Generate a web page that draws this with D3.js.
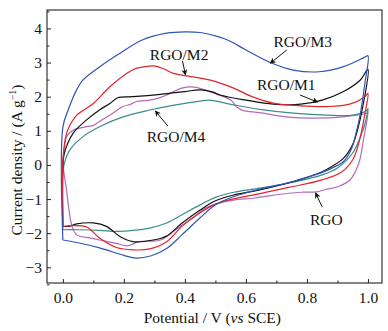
<!DOCTYPE html>
<html>
<head>
<meta charset="utf-8">
<script src="https://cdn.jsdelivr.net/npm/d3@7"></script>
<style>
  body { margin: 0; background: #fff; }
  svg text { font-family: "Liberation Serif", "Times New Roman", serif; fill: #111; }
</style>
</head>
<body>
<svg id="chart" width="388" height="331"></svg>
<script>
// CV loops, [potential V, current density A/g], anodic sweep then cathodic sweep
const rgoM3 = [
    [0, -2.2], [0, 1.1], [0.017, 1.6], [0.045, 2.2], [0.066, 2.49], [0.12, 2.87], [0.187, 3.27],
    [0.26, 3.66], [0.34, 3.86], [0.4, 3.9], [0.45, 3.88], [0.5, 3.78], [0.54, 3.66], [0.6, 3.37],
    [0.68, 3.0], [0.755, 2.78], [0.84, 2.73], [0.92, 2.88], [0.99, 3.16], [1.0, 3.2],
    [0.99, 2.4], [0.975, 1.5], [0.96, 0.9], [0.945, 0.45], [0.92, 0.1], [0.88, -0.1], [0.85, -0.22],
    [0.8, -0.36], [0.74, -0.52], [0.67, -0.66], [0.6, -0.82], [0.55, -0.96], [0.5, -1.17],
    [0.45, -1.55], [0.39, -2.05], [0.34, -2.45], [0.29, -2.66], [0.24, -2.73], [0.2, -2.65],
    [0.12, -2.43], [0.05, -2.28], [0, -2.2]
]
const rgoM2 = [
    [0, -1.8], [0, 0.1], [0.005, 0.6], [0.015, 1.0], [0.045, 1.45], [0.1, 1.8], [0.154, 2.29],
    [0.21, 2.69], [0.24, 2.83], [0.27, 2.88], [0.296, 2.9], [0.33, 2.82], [0.36, 2.69], [0.405, 2.61],
    [0.48, 2.49], [0.56, 2.25], [0.62, 2.0], [0.69, 1.81], [0.78, 1.73], [0.865, 1.71], [0.94, 1.78],
    [0.99, 2.0], [1.0, 2.1],
    [0.99, 1.5], [0.97, 0.64], [0.95, 0.15], [0.915, -0.2], [0.85, -0.44], [0.74, -0.66],
    [0.63, -0.87], [0.56, -0.99], [0.5, -1.15], [0.45, -1.4], [0.39, -1.8], [0.34, -2.25],
    [0.285, -2.46], [0.23, -2.49], [0.176, -2.42], [0.12, -2.14], [0.078, -1.82], [0.03, -1.78], [0, -1.8]
]
const rgoM1 = [
    [0, -1.8], [0, 0], [0.005, 0.35], [0.034, 0.93], [0.078, 1.32], [0.12, 1.61], [0.154, 1.8],
    [0.18, 1.97], [0.23, 2.0], [0.32, 2.07], [0.4, 2.15], [0.45, 2.2], [0.49, 2.14], [0.515, 2.05],
    [0.6, 1.9], [0.69, 1.78], [0.78, 1.78], [0.85, 1.9], [0.92, 2.15], [0.975, 2.49], [1.0, 2.8],
    [0.985, 1.8], [0.965, 1.0], [0.95, 0.6], [0.92, 0.2], [0.88, -0.05], [0.85, -0.2], [0.74, -0.53],
    [0.63, -0.76], [0.56, -0.88], [0.5, -1.05], [0.45, -1.32], [0.39, -1.71], [0.34, -2.08],
    [0.296, -2.2], [0.23, -2.25], [0.187, -2.1], [0.143, -1.8], [0.1, -1.7], [0.045, -1.73],
    [0.02, -1.8], [0, -1.8]
]
const rgoM4 = [
    [0, -1.9], [0, -0.3], [0.005, 0.05], [0.023, 0.44], [0.066, 0.83], [0.12, 1.12], [0.197, 1.41],
    [0.285, 1.61], [0.37, 1.76], [0.45, 1.87], [0.48, 1.9], [0.56, 1.76], [0.645, 1.63],
    [0.755, 1.52], [0.865, 1.46], [0.95, 1.46], [0.997, 1.6], [1.0, 1.65],
    [0.99, 1.2], [0.975, 0.82], [0.95, 0.35], [0.9, -0.09], [0.85, -0.29], [0.74, -0.53],
    [0.63, -0.7], [0.56, -0.8], [0.5, -0.95], [0.45, -1.17], [0.39, -1.46], [0.34, -1.7],
    [0.285, -1.85], [0.23, -1.92], [0.176, -1.95], [0.12, -1.92], [0.05, -1.9], [0, -1.9]
]
const rgo = [
    [0, 0.1], [0.005, 0.5], [0.012, 0.82], [0.034, 1.02], [0.078, 1.12], [0.1, 1.16], [0.12, 1.27],
    [0.154, 1.46], [0.197, 1.71], [0.22, 1.77], [0.24, 1.85], [0.285, 1.9], [0.31, 1.95],
    [0.34, 2.05], [0.39, 2.25], [0.43, 2.28], [0.48, 2.15], [0.55, 1.9], [0.57, 1.7], [0.59, 1.6],
    [0.645, 1.53], [0.73, 1.41], [0.82, 1.37], [0.92, 1.41], [0.997, 1.52], [1.0, 1.55],
    [0.985, 0.73], [0.97, 0.05], [0.94, -0.45], [0.9, -0.64], [0.86, -0.72], [0.83, -0.79],
    [0.78, -0.8], [0.74, -0.83], [0.68, -0.9], [0.63, -0.97], [0.56, -1.03], [0.52, -1.1],
    [0.47, -1.25], [0.43, -1.52], [0.37, -1.9], [0.32, -2.2], [0.25, -2.25], [0.21, -2.37],
    [0.176, -2.3], [0.12, -2.2], [0.088, -2.14], [0.045, -2.05], [0.03, -1.8], [0.01, -0.6],
    [0.003, -0.2], [0, 0.1]
]

const seriesNames = ["RGO", "RGO/M4", "RGO/M1", "RGO/M2", "RGO/M3"]
const seriesData = [rgo, rgoM4, rgoM1, rgoM2, rgoM3]
const seriesColors = ["#b56ab8", "#3d8c88", "#111111", "#e3242b", "#2f55b5"]

const xTicks = [0, 0.2, 0.4, 0.6, 0.8, 1.0]
const yTicks = [-3, -2, -1, 0, 1, 2, 3, 4]

// label anchor [V, I] and arrow [from V, from I, to V, to I]
const labels = [
    { text: "RGO/M3", at: [0.69, 3.46], arrow: [0.734, 3.37, 0.68, 2.98] },
    { text: "RGO/M2", at: [0.285, 3.08], arrow: [0.392, 3.05, 0.402, 2.64] },
    { text: "RGO/M1", at: [0.636, 2.2], arrow: [0.777, 2.05, 0.835, 1.84] },
    { text: "RGO/M4", at: [0.275, 0.67], arrow: [0.344, 1.14, 0.303, 1.58] },
    { text: "RGO", at: [0.81, -1.76], arrow: [0.85, -1.23, 0.828, -0.82] }
]

const svg = d3.select("#chart")
const margin = { left: 47, top: 10, right: 6, bottom: 48 }
const width = 388 - margin.left - margin.right
const height = 331 - margin.top - margin.bottom

const x = d3.scaleLinear().domain([-0.052, 1.046]).range([0, width])
const y = d3.scaleLinear().domain([-3.46, 4.54]).range([height, 0])

const g = svg.append("g").attr("transform", "translate(" + margin.left + "," + margin.top + ")")

// arrowhead marker
svg.append("defs").append("marker")
    .attr("id", "head")
    .attr("viewBox", "0 0 10 10")
    .attr("refX", 9).attr("refY", 5)
    .attr("markerWidth", 8).attr("markerHeight", 6)
    .attr("markerUnits", "userSpaceOnUse")
    .attr("orient", "auto")
    .append("path").attr("d", "M0,0 L10,5 L0,10 L3,5 Z").attr("fill", "#111")

// minor ticks (0.1 / 0.5 steps), pointing inward
const xMinor = d3.axisBottom(x).tickValues([0.1, 0.3, 0.5, 0.7, 0.9])
    .tickSizeInner(-2.5).tickSizeOuter(0).tickFormat("")
const yMinor = d3.axisLeft(y).tickValues(d3.range(-3.5, 4.6, 1)).tickSizeInner(-2.5).tickSizeOuter(0).tickFormat("")

g.append("g").attr("transform", "translate(0," + height + ")").call(xMinor)
g.append("g").call(yMinor)

const xAxis = d3.axisBottom(x).tickValues(xTicks).tickSizeInner(-4).tickSizeOuter(0)
    .tickPadding(9).tickFormat(d3.format(".1f"))
const yAxis = d3.axisLeft(y).tickValues(yTicks).tickSizeInner(-4).tickSizeOuter(0)
    .tickPadding(5).tickFormat(d => d < 0 ? "\u2212" + Math.abs(d) : d)

const gx = g.append("g").attr("transform", "translate(0," + height + ")").call(xAxis)
const gy = g.append("g").call(yAxis)

g.selectAll(".domain").remove()
g.selectAll(".tick line").attr("stroke", "#222").attr("stroke-width", 1)
gx.selectAll("text").attr("font-size", 15.5).attr("fill", "#222")
gy.selectAll("text").attr("font-size", 15.5).attr("fill", "#222")

// curves
const line = d3.line().x(d => x(d[0])).y(d => y(d[1])).curve(d3.curveCatmullRom.alpha(0.5))

g.selectAll(".cv")
    .data(seriesData)
    .enter()
    .append("path")
    .attr("class", "cv")
    .attr("d", d => line(d))
    .attr("fill", "none")
    .attr("stroke", (d, i) => seriesColors[i])
    .attr("stroke-width", 1.2)
    .attr("stroke-linejoin", "round")

// frame
g.append("rect")
    .attr("width", width).attr("height", height)
    .attr("fill", "none").attr("stroke", "#222").attr("stroke-width", 1.1)

// annotations
const ann = g.selectAll(".ann").data(labels).enter().append("g").attr("class", "ann")
ann.append("text")
    .attr("x", d => x(d.at[0]))
    .attr("y", d => y(d.at[1]))
    .attr("font-size", 15.5)
    .text(d => d.text)
ann.append("line")
    .attr("x1", d => x(d.arrow[0])).attr("y1", d => y(d.arrow[1]))
    .attr("x2", d => x(d.arrow[2])).attr("y2", d => y(d.arrow[3]))
    .attr("stroke", "#111").attr("stroke-width", 1)
    .attr("marker-end", "url(#head)")

// axis titles
svg.append("text")
    .attr("x", margin.left + x(0.49))
    .attr("y", 323)
    .attr("text-anchor", "middle")
    .attr("font-size", 15.5)
    .call(t => {
        t.append("tspan").text("Potential / V (")
        t.append("tspan").attr("font-style", "italic").text("vs")
        t.append("tspan").text(" SCE)")
    })

svg.append("text")
    .attr("transform", "translate(22," + 160 + ") rotate(-90)")
    .attr("text-anchor", "middle")
    .attr("font-size", 15.5)
    .call(t => {
        t.append("tspan").text("Current density / (A g")
        t.append("tspan").attr("font-size", 10).attr("dy", -6).text("\u22121")
        t.append("tspan").attr("dy", 6).text(")")
    })
</script>
</body>
</html>
